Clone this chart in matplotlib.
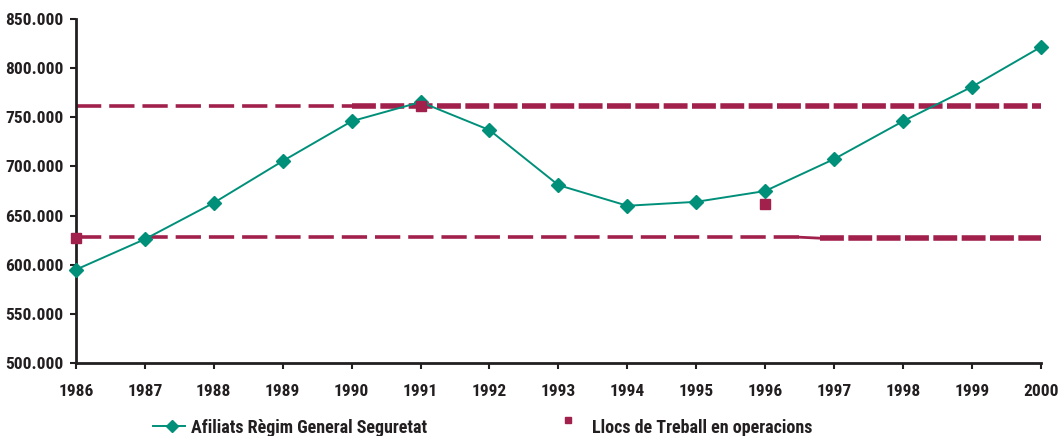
import matplotlib
matplotlib.use("Agg")
import matplotlib.pyplot as plt
from matplotlib.ticker import FuncFormatter
from matplotlib.lines import Line2D

years = [1986, 1987, 1988, 1989, 1990, 1991, 1992, 1993, 1994, 1995, 1996, 1997, 1998, 1999, 2000]
afiliats = [595000, 626000, 663000, 705500, 746000, 765500, 737000, 681000, 660000, 664000, 675000, 707500, 746000, 781000, 821500]
llocs_years = [1986, 1991, 1996]
llocs = [627000, 762000, 662000]
ref_upper = 762000
ref_lower = 628000

green = "#00907A"
red = "#A1214C"
font = ['Roboto Condensed', 'DejaVu Sans']
txtc = '#231F20'

fig = plt.figure(figsize=(10.58, 4.36), dpi=100)
ax = fig.add_axes([0.0718, 0.1674, 0.912, 0.789])

# dashed reference lines
ax.plot([1986, 1990], [ref_upper, ref_upper], color=red, lw=2.6, dashes=(7, 2.2))
ax.plot([1990, 2000], [ref_upper, ref_upper], color=red, lw=4.0, dashes=(4.3, 0.8))
ax.plot([1986, 1996.5], [ref_lower, ref_lower], color=red, lw=2.6, dashes=(7, 2.2))
ax.plot([1996.5, 1996.8], [ref_lower, ref_lower - 1000], color=red, lw=2.0)
ax.plot([1996.8, 2000], [ref_lower - 1000, ref_lower - 1000], color=red, lw=4.0, dashes=(4.3, 0.8))

ax.plot(years, afiliats, color=green, lw=1.4, marker='D', markersize=7, clip_on=False, zorder=3)
ax.plot(llocs_years, llocs, color=red, lw=0, marker='s', markersize=7, clip_on=False, zorder=4)

ax.set_xlim(1986, 2000)
ax.set_ylim(500000, 850000)
ax.set_xticks(years)
ax.set_yticks(range(500000, 850001, 50000))
ax.yaxis.set_major_formatter(FuncFormatter(lambda v, p: f"{int(v):,}".replace(",", ".")))
for s in ['top', 'right']:
    ax.spines[s].set_visible(False)
for s in ['left', 'bottom']:
    ax.spines[s].set_linewidth(2)
    ax.spines[s].set_color(txtc)
ax.tick_params(axis='both', direction='out', length=4, width=1.5, color=txtc)
ax.tick_params(axis='x', pad=11)
ax.tick_params(axis='y', pad=5)
for lab in ax.get_xticklabels() + ax.get_yticklabels():
    lab.set_family(font)
    lab.set_fontweight('bold')
    lab.set_fontsize(12.5)
    lab.set_color(txtc)

# legend
ly = 0.019
fig.lines.append(Line2D([0.1446, 0.1749], [ly + 0.004, ly + 0.004], color=green, lw=1.4, transform=fig.transFigure))
fig.lines.append(Line2D([0.1626], [ly + 0.004], color=green, marker='D', markersize=6, lw=0, transform=fig.transFigure))
fig.text(0.1805, ly, "Afiliats Règim General Seguretat", family=font, fontweight='bold', fontsize=13, color=txtc, va='center')
fig.lines.append(Line2D([0.5369], [0.0367], color=red, marker='s', markersize=5, lw=0, transform=fig.transFigure))
fig.text(0.5595, ly, "Llocs de Treball en operacions", family=font, fontweight='bold', fontsize=13, color=txtc, va='center')

fig.savefig("out.png", dpi=100)
